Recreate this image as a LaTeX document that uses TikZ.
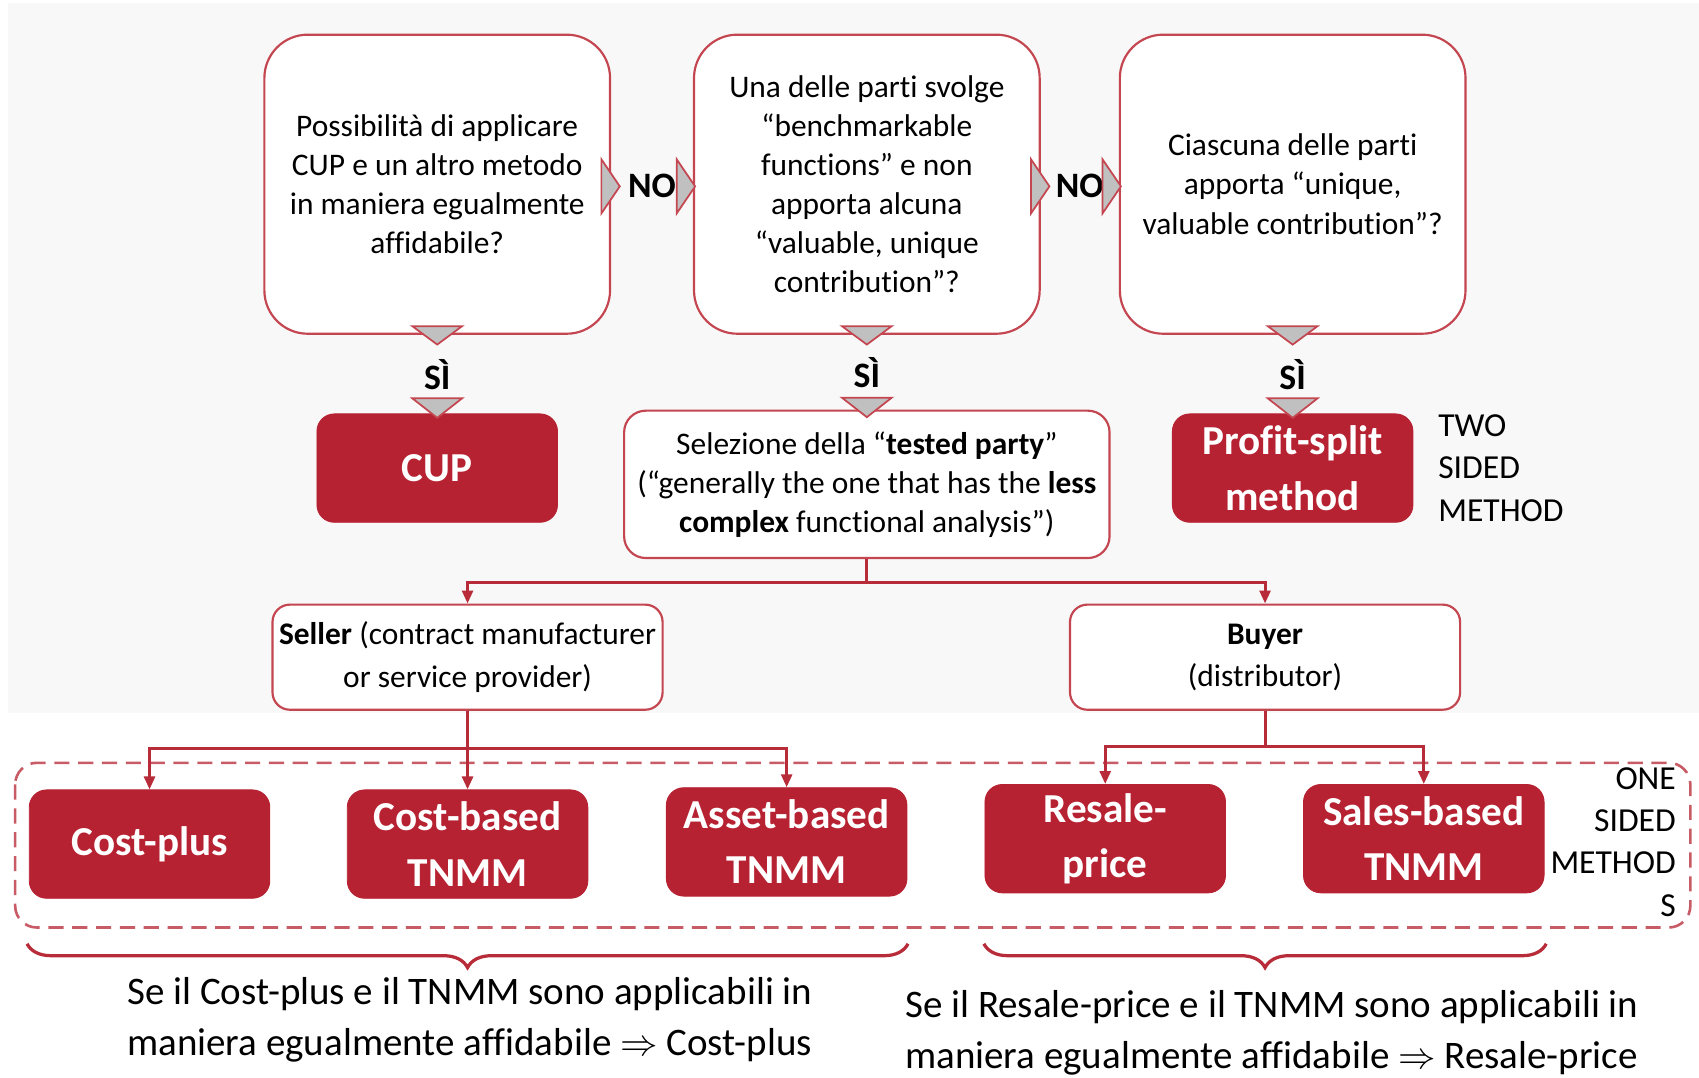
\documentclass[tikz,border=0pt]{standalone}
\usepackage{fontspec}
\setmainfont{Carlito}[Ligatures=NoCommon]
\usetikzlibrary{arrows.meta,calc,decorations.pathreplacing}

\definecolor{boxred}{RGB}{183,34,50}
\definecolor{linered}{RGB}{196,70,80}
\definecolor{flowred}{RGB}{184,44,58}
\definecolor{dashred}{RGB}{200,92,102}
\definecolor{markgray}{RGB}{192,192,192}
\definecolor{bggray}{RGB}{248,248,248}

\tikzset{
  question/.style={rectangle, draw=linered, line width=1pt, fill=white, rounded corners=20pt, minimum width=159.5pt, minimum height=138pt, inner sep=0pt, align=center, font=\fontsize{14.5}{18}\selectfont},
  party/.style={rectangle, draw=linered, line width=1pt, fill=white, rounded corners=8pt, minimum width=180pt, minimum height=48.5pt, inner sep=0pt, align=center, font=\fontsize{14.5}{19.5}\selectfont},
  method/.style={rectangle, draw=boxred, fill=boxred, rounded corners=8pt, minimum width=111pt, minimum height=50pt, inner sep=0pt, align=center, text=white, font=\bfseries\fontsize{19}{25.5}\selectfont},
  answer/.style={inner sep=0pt, font=\bfseries\fontsize{16.5}{18}\selectfont},
  side/.style={inner sep=0pt, font=\fontsize{15.5}{19.5}\selectfont},
  note/.style={inner sep=0pt, align=left, text=black, font=\fontsize{18}{23.5}\selectfont},
  marker/.style={draw=linered, fill=markgray, line width=0.8pt},
  flow/.style={draw=flowred, line width=1.4pt, -{Triangle[length=6pt,width=5pt]}},
  group/.style={draw=dashred, line width=1.2pt, dash pattern=on 7pt off 4pt, rounded corners=10pt},
  bracket/.style={draw=flowred, line width=1.5pt, decorate, decoration={brace, mirror, amplitude=11pt}}
}

\begin{document}
\begin{tikzpicture}[x=0.5pt, y=-0.5pt]
\useasboundingbox (0,0) rectangle (1568,994);
\fill [white] (0,0) rectangle (1568,994);
\fill [bggray] (7,3) rectangle (1568,658);

\node [question] (q1) at (403.5,170) {Possibilità di applicare\\CUP e un altro metodo\\in maniera egualmente\\affidabile?};
\node [question] (q2) at (800,170) {Una delle parti svolge\\“benchmarkable\\functions” e non\\apporta alcuna\\“valuable, unique\\contribution”?};
\node [question] (q3) at (1193,170) {Ciascuna delle parti\\apporta “unique,\\valuable contribution”?};

\node [method] (cup) at (403.5,432) {CUP};
\node [party, rounded corners=10pt, minimum width=224pt, minimum height=68pt, font=\fontsize{14.5}{18}\selectfont] (sel) at (800,447) {Selezione della “\textbf{tested party}”\\(“generally the one that has the \textbf{less}\\\textbf{complex} functional analysis”)};
\node [method] (psm) at (1193,432) {Profit-split\\method};
\node [side, anchor=west, align=left] (two) at (1327,432) {TWO\\SIDED\\METHOD};

\node [answer] (no1) at ($(q1.east)!0.5!(q2.west)+(0,2)$) {NO};
\node [answer] (no2) at ($(q2.east)!0.5!(q3.west)+(0,2)$) {NO};
\node [answer] (si1) at ($(q1.south)!0.5!(cup.north)$) {SÌ};
\node [answer] (si2) at ($(q2.south)!0.5!(sel.north)$) {SÌ};
\node [answer] (si3) at ($(q3.south)!0.5!(psm.north)$) {SÌ};

\filldraw [marker] ($(q1.east)+(-9,-23)$) -- ($(q1.east)+(8,2)$) -- ($(q1.east)+(-9,27)$) -- cycle;
\filldraw [marker] ($(q2.west)+(-15,-23)$) -- ($(q2.west)+(2,2)$) -- ($(q2.west)+(-15,27)$) -- cycle;
\filldraw [marker] ($(q2.east)+(-9,-23)$) -- ($(q2.east)+(8,2)$) -- ($(q2.east)+(-9,27)$) -- cycle;
\filldraw [marker] ($(q3.west)+(-15,-23)$) -- ($(q3.west)+(2,2)$) -- ($(q3.west)+(-15,27)$) -- cycle;

\filldraw [marker] ($(q1.south)+(-23,-8)$) -- ($(q1.south)+(0,9)$) -- ($(q1.south)+(23,-8)$) -- cycle;
\filldraw [marker] ($(q2.south)+(-23,-8)$) -- ($(q2.south)+(0,9)$) -- ($(q2.south)+(23,-8)$) -- cycle;
\filldraw [marker] ($(q3.south)+(-23,-8)$) -- ($(q3.south)+(0,9)$) -- ($(q3.south)+(23,-8)$) -- cycle;
\filldraw [marker] ($(cup.north)+(-23,-14)$) -- ($(cup.north)+(0,4)$) -- ($(cup.north)+(23,-14)$) -- cycle;
\filldraw [marker] ($(sel.north)+(-23,-11)$) -- ($(sel.north)+(0,7)$) -- ($(sel.north)+(23,-11)$) -- cycle;
\filldraw [marker] ($(psm.north)+(-23,-14)$) -- ($(psm.north)+(0,4)$) -- ($(psm.north)+(23,-14)$) -- cycle;

\node [party] (seller) at (431.5,606.5) {\textbf{Seller} (contract manufacturer\\or service provider)};
\node [party] (buyer) at (1167.5,606.5) {\textbf{Buyer}\\(distributor)};

\draw [flow] (sel.south) -- ++(0,22) -| (seller.north);
\draw [flow] (sel.south) -- ++(0,22) -| (buyer.north);

\draw [group] (14,704) rectangle (1560,856);

\node [method] (costplus) at (138,779) {Cost-plus};
\node [method] (costtnmm) at (431.5,779) {Cost-based\\TNMM};
\node [method] (assettnmm) at (726,777) {Asset-based\\TNMM};
\node [method] (resale) at (1020,774) {Resale-\\price};
\node [method] (salestnmm) at (1314,774) {Sales-based\\TNMM};
\node [side, anchor=east, align=right] (one) at (1547,777) {ONE\\SIDED\\METHOD\\S};

\draw [flow] (seller.south) -- ++(0,35) -| (costplus.north);
\draw [flow] (seller.south) -- (costtnmm.north);
\draw [flow] (seller.south) -- ++(0,35) -| (assettnmm.north);
\draw [flow] (buyer.south) -- ++(0,33) -| (resale.north);
\draw [flow] (buyer.south) -- ++(0,33) -| (salestnmm.north);

\draw [bracket] (25,871) -- (838,871);
\draw [bracket] (908,871) -- (1427,871);

\node [note, anchor=west] (cpnote) at (117,941.5) {Se il Cost-plus e il TNMM sono applicabili in\\maniera egualmente affidabile $\Rightarrow$ Cost-plus};
\node [note, anchor=west] (rpnote) at (835,953.5) {Se il Resale-price e il TNMM sono applicabili in\\maniera egualmente affidabile $\Rightarrow$ Resale-price};
\end{tikzpicture}
\end{document}
